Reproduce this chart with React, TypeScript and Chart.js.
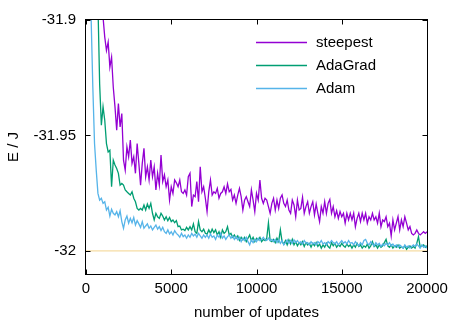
import React, { useEffect, useRef } from 'react';
import { Chart, registerables } from 'chart.js';
Chart.register(...registerables);

// sampling interval of the recorded energies (updates)
const STEP = 100;

const steepest = [
  -31.2, -31.4, -31.55, -31.65, -31.72, -31.78, -31.83, -31.86, -31.885, -31.8988,
  -31.9074, -31.9132, -31.9096, -31.9204, -31.9161, -31.9291, -31.9376, -31.9477, -31.9362, -31.9463,
  -31.9405, -31.9607, -31.9650, -31.9549, -31.9592, -31.9520, -31.9621, -31.9592, -31.9664, -31.9535,
  -31.9621, -31.9715, -31.9621, -31.9556, -31.9679, -31.9636, -31.9693, -31.9607, -31.9679, -31.9636,
  -31.9736, -31.9664, -31.9715, -31.9585, -31.9700, -31.9671, -31.9722, -31.9693, -31.9780, -31.9722,
  -31.9751, -31.9693, -31.9705, -31.9722, -31.9693, -31.9744, -31.9751, -31.9736, -31.9758, -31.9679,
  -31.9664, -31.9808, -31.9758, -31.9765, -31.9700, -31.9787, -31.9636, -31.9744, -31.9722, -31.9772,
  -31.9830, -31.9744, -31.9693, -31.9758, -31.9744, -31.9751, -31.9729, -31.9772, -31.9751, -31.9744,
  -31.9722, -31.9751, -31.9710, -31.9744, -31.9734, -31.9780, -31.9758, -31.9794, -31.9758, -31.9729,
  -31.9765, -31.9823, -31.9780, -31.9765, -31.9787, -31.9808, -31.9736, -31.9780, -31.9830, -31.9751,
  -31.9780, -31.9693, -31.9772, -31.9794, -31.9772, -31.9780, -31.9808, -31.9837, -31.9794, -31.9772,
  -31.9823, -31.9780, -31.9816, -31.9772, -31.9758, -31.9794, -31.9808, -31.9780, -31.9823, -31.9837,
  -31.9780, -31.9801, -31.9852, -31.9780, -31.9823, -31.9816, -31.9768, -31.9837, -31.9808, -31.9787,
  -31.9837, -31.9808, -31.9787, -31.9844, -31.9797, -31.9837, -31.9873, -31.9808, -31.9837, -31.9787,
  -31.9837, -31.9794, -31.9777, -31.9837, -31.9808, -31.9852, -31.9826, -31.9859, -31.9830, -31.9852,
  -31.9837, -31.9880, -31.9837, -31.9866, -31.9837, -31.9866, -31.9837, -31.9895, -31.9859, -31.9837,
  -31.9873, -31.9837, -31.9866, -31.9837, -31.9880, -31.9852, -31.9866, -31.9837, -31.9866, -31.9852,
  -31.9880, -31.9837, -31.9895, -31.9866, -31.9873, -31.9852, -31.9895, -31.9880, -31.9935, -31.9866,
  -31.9909, -31.9880, -31.9852, -31.9909, -31.9866, -31.9895, -31.9852, -31.9880, -31.9909, -31.9895,
  -31.9924, -31.9931, -31.9924, -31.9909, -31.9924, -31.9931, -31.9924, -31.9917, -31.9924, -31.9917,
];

const adaGrad = [
  -31.5, -31.62, -31.72, -31.79, -31.84, -31.87, -31.893, -31.9276, -31.9456, -31.9376,
  -31.9434, -31.9535, -31.9571, -31.9564, -31.9722, -31.9607, -31.9628, -31.9643, -31.9664, -31.9715,
  -31.9708, -31.9715, -31.9736, -31.9744, -31.9751, -31.9758, -31.9744, -31.9772, -31.9787, -31.9816,
  -31.9823, -31.9816, -31.9823, -31.9801, -31.9823, -31.9797, -31.9816, -31.9794, -31.9837, -31.9866,
  -31.9837, -31.9852, -31.9859, -31.9837, -31.9849, -31.9866, -31.9852, -31.9869, -31.9855, -31.9873,
  -31.9866, -31.9878, -31.9869, -31.9895, -31.9892, -31.9909, -31.9906, -31.9912, -31.9898, -31.9909,
  -31.9895, -31.9909, -31.9883, -31.9917, -31.9924, -31.9873, -31.9909, -31.9917, -31.9906, -31.9924,
  -31.9927, -31.9909, -31.9924, -31.9906, -31.9921, -31.9909, -31.9931, -31.9917, -31.9941, -31.9909,
  -31.9924, -31.9917, -31.9895, -31.9931, -31.9924, -31.9941, -31.9931, -31.9945, -31.9935, -31.9955,
  -31.9941, -31.9952, -31.9941, -31.9960, -31.9945, -31.9931, -31.9955, -31.9941, -31.9960, -31.9945,
  -31.9952, -31.9941, -31.9960, -31.9950, -31.9955, -31.9945, -31.9878, -31.9955, -31.9960, -31.9950,
  -31.9964, -31.9945, -31.9960, -31.9909, -31.9960, -31.9970, -31.9955, -31.9974, -31.9952, -31.9970,
  -31.9950, -31.9974, -31.9960, -31.9978, -31.9964, -31.9974, -31.9960, -31.9981, -31.9964, -31.9974,
  -31.9967, -31.9984, -31.9967, -31.9978, -31.9964, -31.9981, -31.9970, -31.9988, -31.9974, -31.9984,
  -31.9967, -31.9981, -31.9988, -31.9964, -31.9978, -31.9967, -31.9984, -31.9974, -31.9981, -31.9967,
  -31.9978, -31.9984, -31.9970, -31.9981, -31.9974, -31.9988, -31.9974, -31.9984, -31.9967, -31.9981,
  -31.9974, -31.9988, -31.9978, -31.9984, -31.9970, -31.9988, -31.9978, -31.9960, -31.9981, -31.9974,
  -31.9988, -31.9974, -31.9984, -31.9978, -31.9964, -31.9950, -31.9978, -31.9984, -31.9974, -31.9988,
  -31.9978, -31.9984, -31.9974, -31.9988, -31.9981, -31.9988, -31.9978, -31.9993, -31.9984, -31.9978,
  -31.9988, -31.9981, -31.9988, -31.9967, -31.9938, -31.9984, -31.9978, -31.9974, -31.9984, -31.9978,
];

const adam = [
  -31.7, -31.84, -31.899, -31.9290, -31.9535, -31.9650, -31.9751, -31.9780, -31.9772, -31.9794,
  -31.9787, -31.9823, -31.9811, -31.9849, -31.9820, -31.9837, -31.9844, -31.9830, -31.9852, -31.9826,
  -31.9873, -31.9902, -31.9866, -31.9849, -31.9880, -31.9859, -31.9878, -31.9855, -31.9888, -31.9869,
  -31.9883, -31.9898, -31.9873, -31.9902, -31.9892, -31.9883, -31.9902, -31.9892, -31.9909, -31.9898,
  -31.9888, -31.9906, -31.9895, -31.9912, -31.9898, -31.9917, -31.9924, -31.9909, -31.9927, -31.9917,
  -31.9931, -31.9912, -31.9924, -31.9931, -31.9941, -31.9924, -31.9938, -31.9931, -31.9945, -31.9931,
  -31.9941, -31.9924, -31.9935, -31.9927, -31.9941, -31.9924, -31.9935, -31.9945, -31.9931, -31.9941,
  -31.9931, -31.9945, -31.9927, -31.9941, -31.9935, -31.9950, -31.9931, -31.9941, -31.9924, -31.9945,
  -31.9935, -31.9950, -31.9938, -31.9931, -31.9945, -31.9935, -31.9950, -31.9938, -31.9952, -31.9941,
  -31.9960, -31.9945, -31.9955, -31.9941, -31.9960, -31.9974, -31.9952, -31.9964, -31.9950, -31.9960,
  -31.9945, -31.9955, -31.9950, -31.9941, -31.9952, -31.9955, -31.9945, -31.9955, -31.9950, -31.9960,
  -31.9950, -31.9964, -31.9952, -31.9967, -31.9955, -31.9974, -31.9964, -31.9952, -31.9967, -31.9955,
  -31.9967, -31.9952, -31.9964, -31.9955, -31.9967, -31.9960, -31.9970, -31.9955, -31.9967, -31.9964,
  -31.9974, -31.9960, -31.9970, -31.9964, -31.9974, -31.9960, -31.9967, -31.9955, -31.9970, -31.9964,
  -31.9974, -31.9960, -31.9967, -31.9955, -31.9964, -31.9970, -31.9960, -31.9974, -31.9964, -31.9955,
  -31.9967, -31.9960, -31.9970, -31.9955, -31.9967, -31.9964, -31.9974, -31.9960, -31.9970, -31.9978,
  -31.9964, -31.9974, -31.9955, -31.9950, -31.9967, -31.9974, -31.9960, -31.9970, -31.9978, -31.9964,
  -31.9974, -31.9967, -31.9981, -31.9970, -31.9978, -31.9967, -31.9974, -31.9964, -31.9978, -31.9970,
  -31.9981, -31.9974, -31.9984, -31.9974, -31.9981, -31.9988, -31.9974, -31.9984, -31.9978, -31.9988,
  -31.9981, -31.9974, -31.9981, -31.9970, -31.9978, -31.9988, -31.9974, -31.9984, -31.9978, -31.9988,
];

const referenceEnergy = -32;
const xRange = [0, 20000];
const yRange = [-32.01, -31.9];
const xTickValues = [0, 5000, 10000, 15000, 20000];
const yTickValues = [-31.9, -31.95, -32];
const seriesNames = ['steepest', 'AdaGrad', 'Adam'];
const seriesColors = ['#9400d3', '#009e73', '#56b4e9'];

const FONT = '"Liberation Sans", Arial, sans-serif';
const LINE_W = 1.3;

const toPoints = (arr: number[]) => arr.map((y, i) => ({ x: (i + 1) * STEP, y }));

const framePlugin = {
  id: 'gnuplotFrame',
  afterDatasetsDraw(chart: any) {
    const { ctx, chartArea, scales } = chart;
    const { left, right, top, bottom } = chartArea;
    ctx.save();
    ctx.strokeStyle = '#000';
    ctx.lineWidth = 1;
    const L = Math.round(left) - 0.5;
    const R = Math.round(right) + 0.5;
    const T = Math.round(top) - 0.5;
    const B = Math.round(bottom) + 0.5;
    ctx.strokeRect(L, T, R - L, B - T);
    const tl = 5;
    ctx.beginPath();
    xTickValues.forEach((v) => {
      const px = Math.round(scales.x.getPixelForValue(v)) + 0.5;
      ctx.moveTo(px, B);
      ctx.lineTo(px, B - tl);
      ctx.moveTo(px, T);
      ctx.lineTo(px, T + tl);
    });
    yTickValues.forEach((v) => {
      const py = Math.round(scales.y.getPixelForValue(v)) + 0.5;
      ctx.moveTo(L, py);
      ctx.lineTo(L + tl, py);
      ctx.moveTo(R, py);
      ctx.lineTo(R - tl, py);
    });
    ctx.stroke();

    // key (legend) in the upper right
    ctx.font = `15px ${FONT}`;
    ctx.textBaseline = 'middle';
    ctx.textAlign = 'left';
    const rows = [42, 65, 88];
    seriesNames.forEach((name, i) => {
      const y = rows[i] + 0.5;
      ctx.strokeStyle = seriesColors[i];
      ctx.lineWidth = LINE_W;
      ctx.beginPath();
      ctx.moveTo(256, y);
      ctx.lineTo(307, y);
      ctx.stroke();
      ctx.fillStyle = '#000';
      ctx.fillText(name, 316, rows[i] + 1);
    });
    ctx.restore();
  },
};

export default function App() {
  const canvasRef = useRef<HTMLCanvasElement | null>(null);

  useEffect(() => {
    document.body.style.margin = '0';
    const canvas = canvasRef.current;
    if (!canvas) return;
    const chart = new Chart(canvas, {
      type: 'line',
      data: {
        datasets: [
          {
            label: seriesNames[0],
            data: toPoints(steepest),
            borderColor: seriesColors[0],
            borderWidth: LINE_W,
            pointRadius: 0,
            tension: 0,
            order: 4,
          },
          {
            label: seriesNames[1],
            data: toPoints(adaGrad),
            borderColor: seriesColors[1],
            borderWidth: LINE_W,
            pointRadius: 0,
            tension: 0,
            order: 3,
          },
          {
            label: seriesNames[2],
            data: toPoints(adam),
            borderColor: seriesColors[2],
            borderWidth: LINE_W,
            pointRadius: 0,
            tension: 0,
            order: 2,
          },
          {
            label: 'reference',
            data: [
              { x: xRange[0], y: referenceEnergy },
              { x: xRange[1], y: referenceEnergy },
            ],
            borderColor: 'rgba(230,159,0,0.45)',
            borderWidth: 1,
            pointRadius: 0,
            order: 1,
          },
        ],
      },
      options: {
        responsive: false,
        animation: false,
        parsing: true,
        layout: { padding: { top: 20, right: 36, left: 0, bottom: 0 } },
        plugins: {
          legend: { display: false },
          tooltip: { enabled: false },
        },
        scales: {
          x: {
            type: 'linear',
            min: xRange[0],
            max: xRange[1],
            afterBuildTicks: (scale: any) => {
              scale.ticks = xTickValues.map((v) => ({ value: v }));
            },
            afterFit: (scale: any) => {
              scale.height = 52;
            },
            grid: { display: false, drawTicks: false },
            border: { display: false },
            ticks: {
              padding: 6,
              color: '#000',
              font: { family: FONT, size: 15 },
              maxRotation: 0,
              autoSkip: false,
              callback: (v: any) => String(v),
            },
            title: {
              display: true,
              text: 'number of updates',
              color: '#000',
              font: { family: FONT, size: 15 },
              padding: { top: 0, bottom: 4 },
            },
          },
          y: {
            type: 'linear',
            min: yRange[0],
            max: yRange[1],
            afterBuildTicks: (scale: any) => {
              scale.ticks = yTickValues.map((v) => ({ value: v }));
            },
            afterFit: (scale: any) => {
              scale.width = 86;
            },
            grid: { display: false, drawTicks: false },
            border: { display: false },
            ticks: {
              padding: 10,
              color: '#000',
              font: { family: FONT, size: 15 },
              autoSkip: false,
              callback: (v: any) => String(v),
            },
            title: {
              display: true,
              text: 'E / J',
              color: '#000',
              font: { family: FONT, size: 15 },
              padding: { top: 5, bottom: 0 },
            },
          },
        },
      },
      plugins: [framePlugin],
    });
    return () => chart.destroy();
  }, []);

  return (
    <div style={{ width: 463, height: 326 }}>
      <canvas ref={canvasRef} width={463} height={326} style={{ display: 'block' }} />
    </div>
  );
}
